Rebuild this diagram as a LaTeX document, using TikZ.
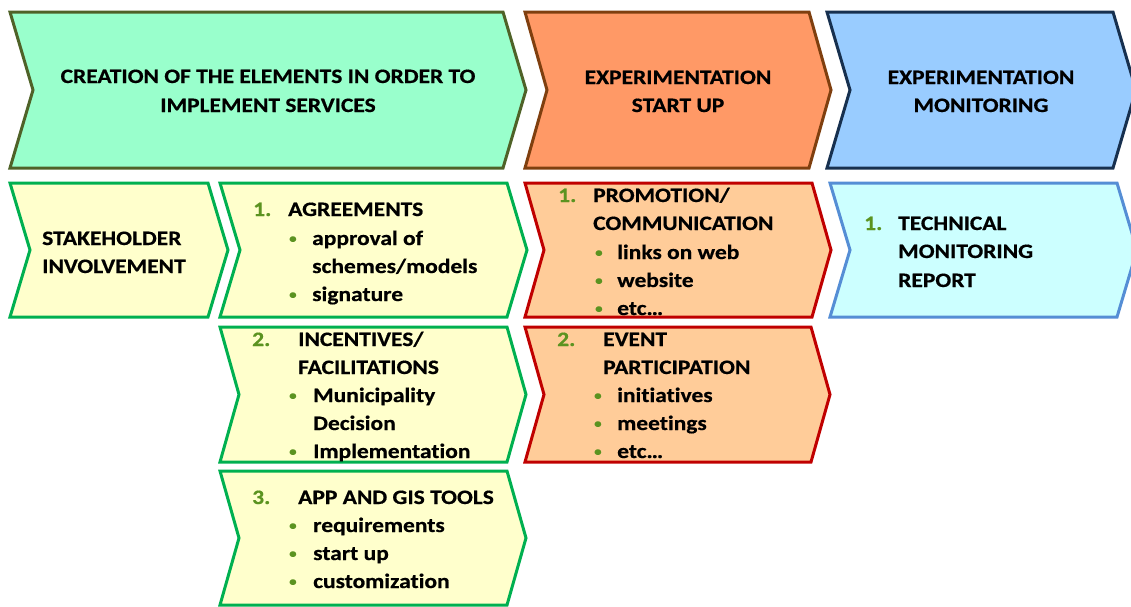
\documentclass[tikz,border=0pt]{standalone}
\usepackage{fontspec}
\setmainfont{Carlito}[FakeStretch=1.145, Ligatures={NoCommon}, BoldFeatures={FakeBold=0.6}]
\definecolor{mintfill}{HTML}{99FFCC}
\definecolor{olivebd}{HTML}{4F6228}
\definecolor{orangefill}{HTML}{FF9966}
\definecolor{brownbd}{HTML}{7F3F0F}
\definecolor{bluefill}{HTML}{99CCFF}
\definecolor{navybd}{HTML}{17304F}
\definecolor{yellowfill}{HTML}{FFFFCC}
\definecolor{greenbd}{HTML}{00B050}
\definecolor{peachfill}{HTML}{FFCC99}
\definecolor{redbd}{HTML}{C00000}
\definecolor{cyanfill}{HTML}{CCFFFF}
\definecolor{lbluebd}{HTML}{558ED5}
\definecolor{numgreen}{HTML}{5B9320}
\newcommand\chevpath[6]{%
  \draw[#1] (#2,#4) -- (#3,#4) -- ({#3+#6},{(#4+#5)/2}) -- (#3,#5) -- (#2,#5) -- ({#2+#6},{(#4+#5)/2}) -- cycle;}
\newcommand\smallbul{\raisebox{2.2pt}{\fontsize{13}{13}\selectfont •}}
\tikzset{
  txt/.style={anchor=base west, inner sep=0pt, font=\fontsize{20.5}{28}\selectfont\bfseries},
  ctxt/.style={txt, anchor=base},
  num/.style={txt, text=numgreen},
  bul/.style={txt, text=numgreen},
  chbase/.style={line width=3pt, line join=miter},
  topgreen/.style={chbase, fill=mintfill, draw=olivebd},
  toporange/.style={chbase, fill=orangefill, draw=brownbd},
  topblue/.style={chbase, fill=bluefill, draw=navybd},
  subgreen/.style={chbase, fill=yellowfill, draw=greenbd},
  subred/.style={chbase, fill=peachfill, draw=redbd},
  subblue/.style={chbase, fill=cyanfill, draw=lbluebd},
}
\begin{document}
\begin{tikzpicture}[x=1pt,y=-1pt]
\useasboundingbox (0,0) rectangle (1131,606);
\clip (0,0) rectangle (1131,606);
% top row
\chevpath{topgreen}{10}{503}{12}{168}{23}
\chevpath{toporange}{525}{809}{12}{168}{22}
\chevpath{topblue}{827}{1113}{12}{168}{23}
% second rows
\chevpath{subgreen}{10}{208}{183}{317}{20}
\chevpath{subgreen}{220}{507}{183}{317}{20}
\chevpath{subgreen}{220}{507}{327}{462}{19}
\chevpath{subgreen}{220}{507}{471}{605}{19}
\chevpath{subred}{525}{812}{183}{317}{19}
\chevpath{subred}{525}{811}{327}{462}{19}
\chevpath{subblue}{830}{1117}{183}{317}{20}
% top texts
\node[ctxt] (g1) at (268,83) {CREATION OF THE ELEMENTS IN ORDER TO};
\node[ctxt] (g2) at (268,112) {IMPLEMENT SERVICES};
\node[ctxt] (o1) at (678,84) {EXPERIMENTATION};
\node[ctxt] (o2) at (678,112) {START UP};
\node[ctxt] (b1) at (981,84) {EXPERIMENTATION};
\node[ctxt] (b2) at (981,112) {MONITORING};
% stakeholder
\node[txt] (s1) at (42,245) {STAKEHOLDER};
\node[txt] (s2) at (42,273) {INVOLVEMENT};
% agreements
\node[num] (an) at (253,216) {1.};
\node[txt] (a0) at (288,216) {AGREEMENTS};
\node[bul] (ab1) at (289,245) {\smallbul};
\node[txt] (a1) at (312,245) {approval of};
\node[txt] (a2) at (312,273) {schemes/models};
\node[bul] (ab3) at (289,301) {\smallbul};
\node[txt] (a3) at (312,301) {signature};
% incentives
\node[num] (in) at (252,346) {2.};
\node[txt] (i0) at (298,346) {INCENTIVES/};
\node[txt] (i00) at (298,374) {FACILITATIONS};
\node[bul] (ib1) at (289,402) {\smallbul};
\node[txt] (i1) at (313,402) {Municipality};
\node[txt] (i2) at (313,430) {Decision};
\node[bul] (ib3) at (289,458) {\smallbul};
\node[txt] (i3) at (313,458) {Implementation};
% app
\node[num] (pn) at (252,504) {3.};
\node[txt] (p0) at (298,504) {APP AND GIS TOOLS};
\node[bul] (pb1) at (289,532) {\smallbul};
\node[txt] (p1) at (313,532) {requirements};
\node[bul] (pb2) at (289,560) {\smallbul};
\node[txt] (p2) at (313,560) {start up};
\node[bul] (pb3) at (289,588) {\smallbul};
\node[txt] (p3) at (313,588) {customization};
% promotion
\node[num] (rn) at (558,202) {1.};
\node[txt] (r0) at (593,202) {PROMOTION/};
\node[txt] (r00) at (593,230) {COMMUNICATION};
\node[bul] (rb1) at (595,259) {\smallbul};
\node[txt] (r1) at (617,259) {links on web};
\node[bul] (rb2) at (595,287) {\smallbul};
\node[txt] (r2) at (617,287) {website};
\node[bul] (rb3) at (595,315) {\smallbul};
\node[txt] (r3) at (617,315) {etc…};
% event
\node[num] (en) at (557,346) {2.};
\node[txt] (e0) at (603,346) {EVENT};
\node[txt] (e00) at (603,374) {PARTICIPATION};
\node[bul] (eb1) at (594,402) {\smallbul};
\node[txt] (e1) at (617,402) {initiatives};
\node[bul] (eb2) at (594,430) {\smallbul};
\node[txt] (e2) at (617,430) {meetings};
\node[bul] (eb3) at (594,458) {\smallbul};
\node[txt] (e3) at (617,458) {etc…};
% technical
\node[num] (tn) at (864,230) {1.};
\node[txt] (t1) at (898,230) {TECHNICAL};
\node[txt] (t2) at (898,258) {MONITORING};
\node[txt] (t3) at (898,287) {REPORT};
\end{tikzpicture}
\end{document}
